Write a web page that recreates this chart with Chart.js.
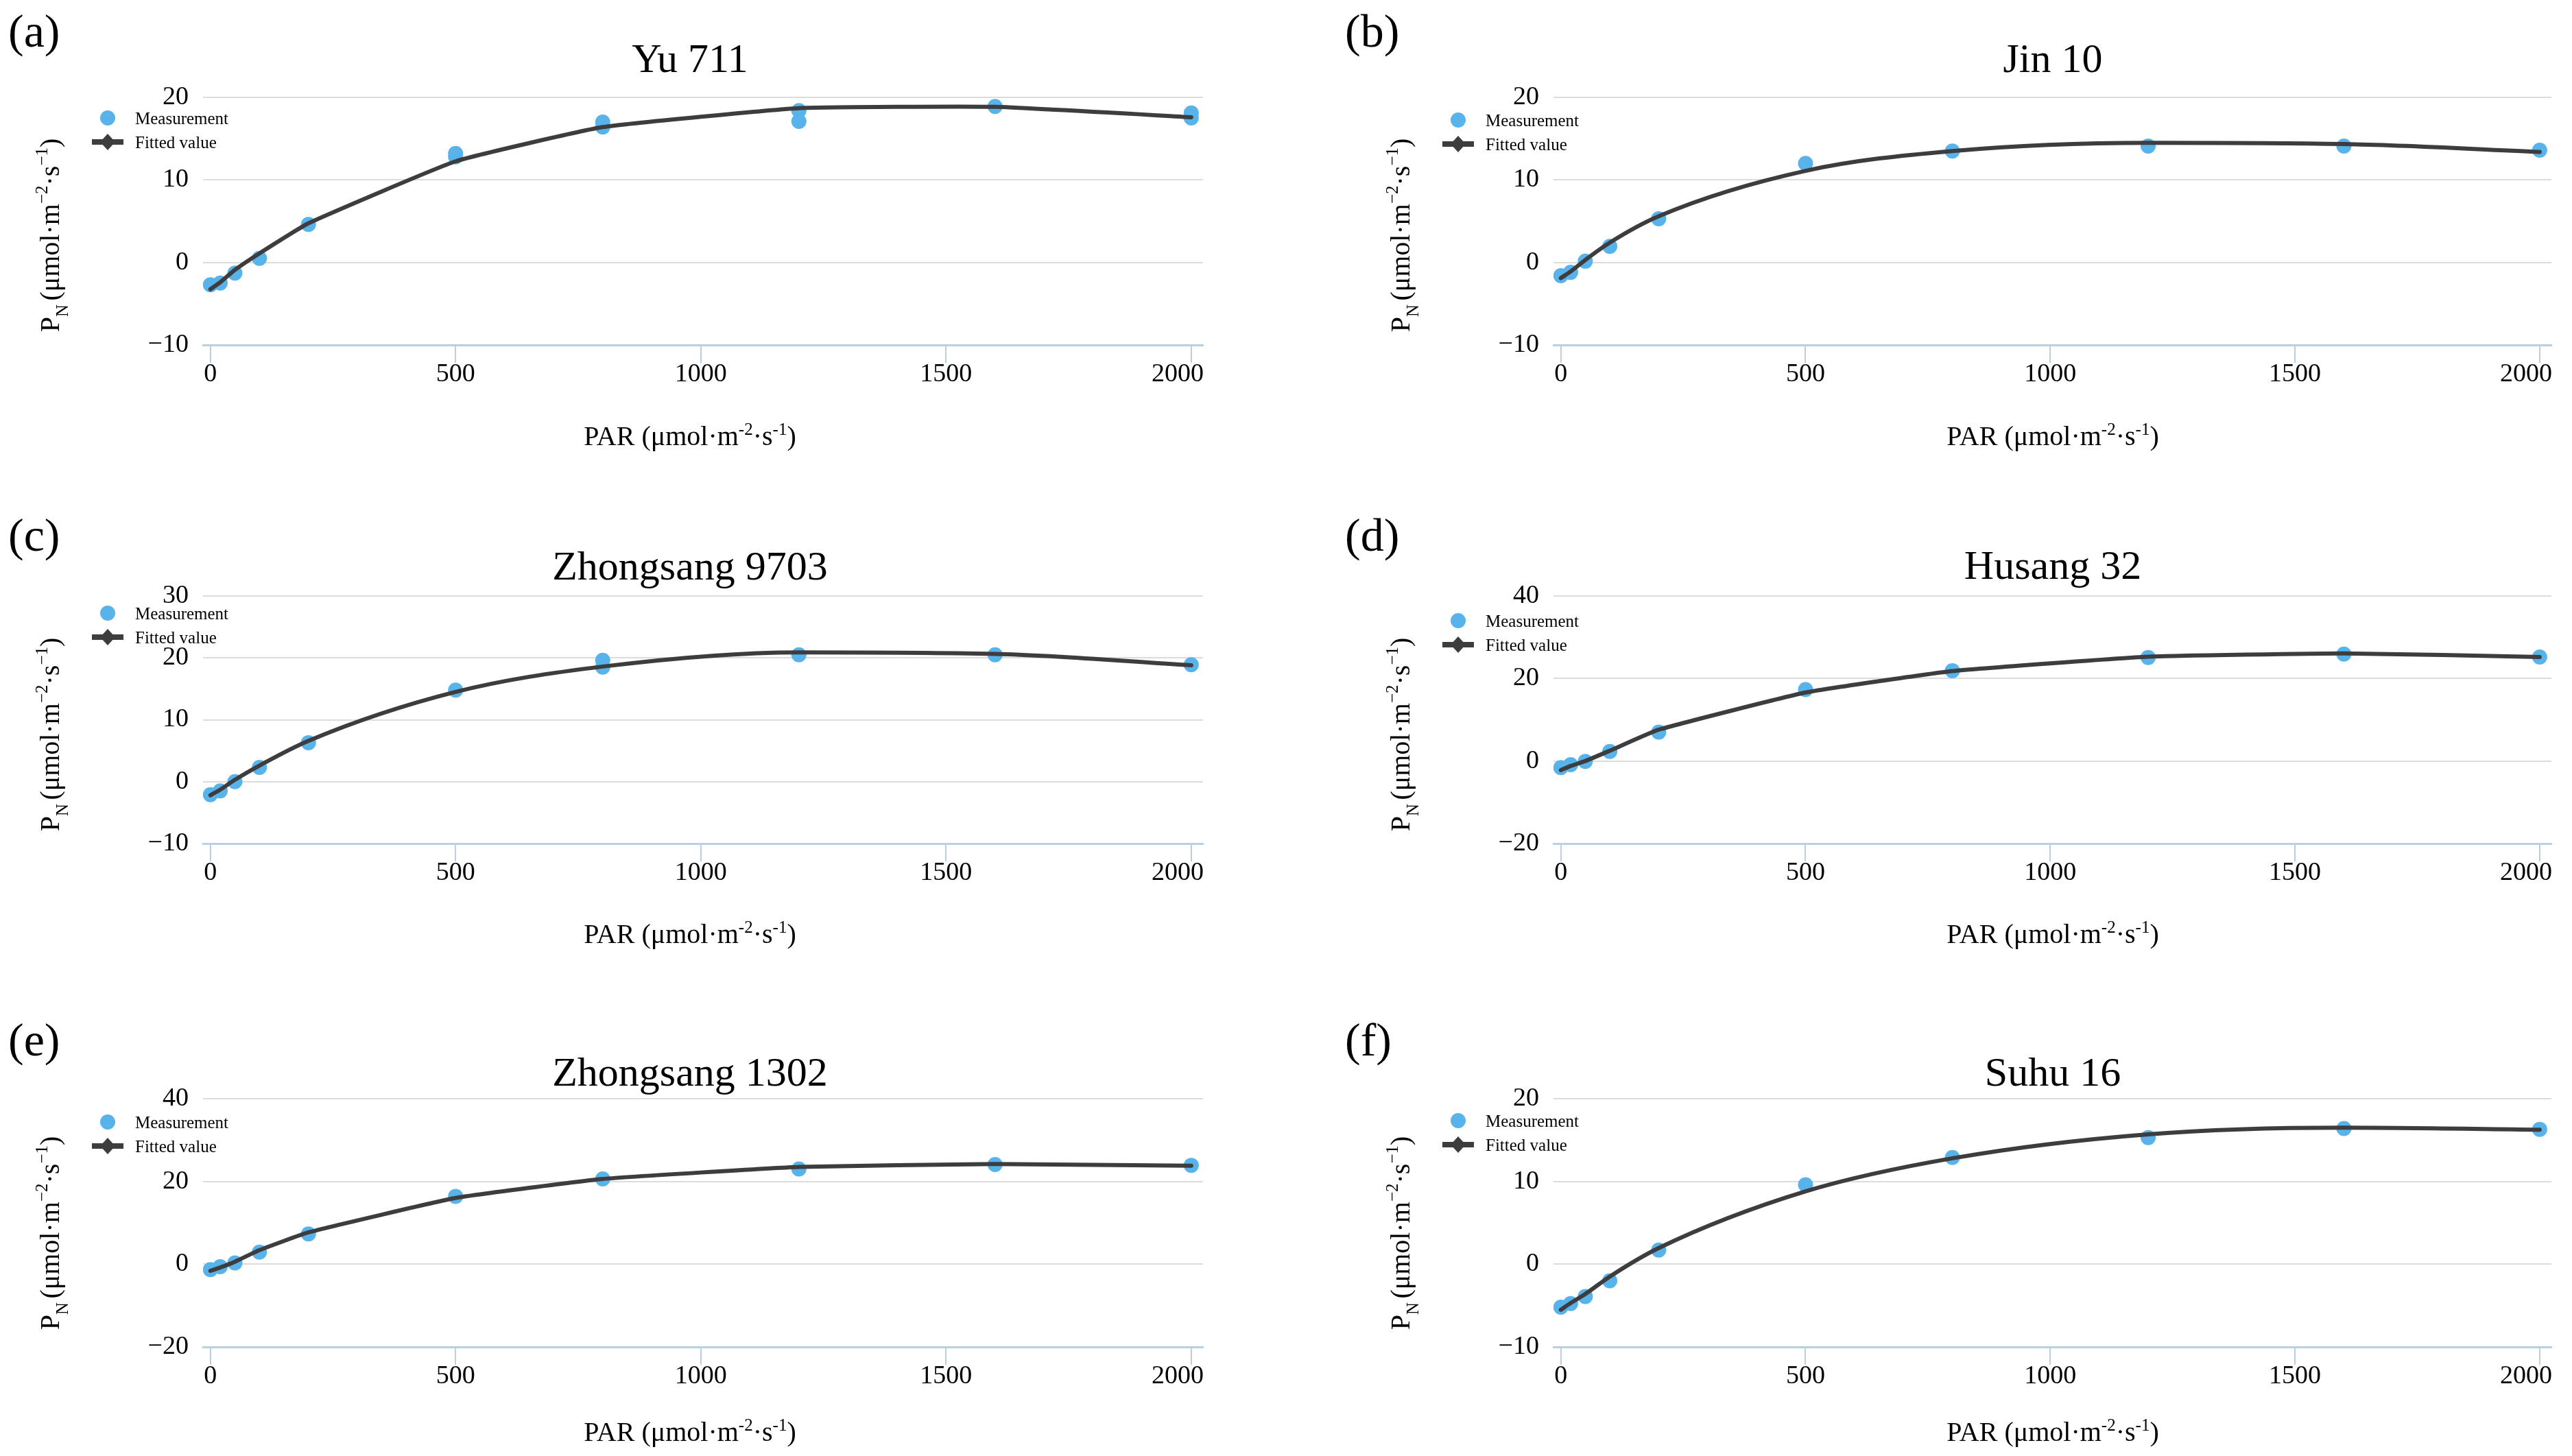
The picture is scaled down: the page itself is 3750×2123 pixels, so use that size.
<!DOCTYPE html>
<html>
<head>
<meta charset="utf-8">
<script src="https://cdn.jsdelivr.net/npm/chart.js@4.4.1/dist/chart.umd.min.js"></script>
<style>
html,body{margin:0;padding:0;background:#ffffff;}
body{width:3750px;height:2123px;position:relative;overflow:hidden;}
canvas{position:absolute;display:block;}
</style>
</head>
<body>
<canvas id="p0"></canvas>
<canvas id="p1"></canvas>
<canvas id="p2"></canvas>
<canvas id="p3"></canvas>
<canvas id="p4"></canvas>
<canvas id="p5"></canvas>
<script>
// ---------------- DATA ----------------
const PAR = [0, 20, 50, 100, 200, 500, 800, 1200, 1600, 2000];
const xTickValues = [0, 500, 1000, 1500, 2000];
const panelLetters = ['(a)', '(b)', '(c)', '(d)', '(e)', '(f)'];
const panelTitles = ['Yu 711', 'Jin 10', 'Zhongsang 9703', 'Husang 32', 'Zhongsang 1302', 'Suhu 16'];
const yMins = [-10, -10, -10, -20, -20, -10];
const yMaxs = [20, 20, 30, 40, 40, 20];
const ySteps = [10, 10, 10, 20, 20, 10];
const seriesNames = ['Measurement', 'Fitted value'];

const measX_a = [0, 20, 50, 100, 200, 500, 500, 800, 800, 1200, 1200, 1600, 2000, 2000];
const measY_a = [-2.7, -2.5, -1.3, 0.5, 4.6, 12.8, 13.2, 16.4, 17.0, 18.4, 17.1, 18.9, 18.1, 17.5];
const fit_a   = [-3.25, -2.4, -0.9, 1.1, 4.75, 12.25, 16.4, 18.7, 18.85, 17.6];

const measX_b = [0, 20, 50, 100, 200, 500, 800, 1200, 1600, 2000];
const measY_b = [-1.6, -1.2, 0.15, 1.95, 5.3, 12.0, 13.5, 14.1, 14.1, 13.6];
const fit_b   = [-1.9, -1.1, 0.3, 2.4, 5.6, 11.1, 13.5, 14.5, 14.35, 13.4];

const measX_c = [0, 20, 50, 100, 200, 500, 800, 800, 1200, 1600, 2000];
const measY_c = [-2.1, -1.5, 0.0, 2.3, 6.3, 14.8, 19.6, 18.5, 20.5, 20.5, 18.9];
const fit_c   = [-2.2, -1.3, 0.3, 2.6, 6.6, 14.5, 18.6, 20.9, 20.65, 18.8];

const measX_d = [0, 20, 50, 100, 200, 500, 800, 1200, 1600, 2000];
const measY_d = [-1.6, -0.9, -0.1, 2.3, 7.0, 17.3, 21.9, 25.1, 25.9, 25.2];
const fit_d   = [-2.2, -1.2, 0.0, 2.5, 7.6, 16.6, 21.8, 25.3, 26.1, 25.2];

const measX_e = [0, 20, 50, 100, 200, 500, 800, 1200, 1600, 2000];
const measY_e = [-1.3, -0.6, 0.3, 2.9, 7.3, 16.4, 20.6, 23.0, 24.1, 23.9];
const fit_e   = [-1.6, -0.8, 0.6, 3.4, 7.7, 16.0, 20.6, 23.5, 24.2, 23.8];

const measX_f = [0, 20, 50, 100, 200, 500, 800, 1200, 1600, 2000];
const measY_f = [-5.2, -4.75, -3.9, -2.0, 1.7, 9.6, 12.9, 15.3, 16.4, 16.3];
const fit_f   = [-5.5, -4.7, -3.6, -1.5, 1.95, 8.8, 12.8, 15.7, 16.5, 16.25];

const measXs = [measX_a, measX_b, measX_c, measX_d, measX_e, measX_f];
const measYs = [measY_a, measY_b, measY_c, measY_d, measY_e, measY_f];
const fits   = [fit_a, fit_b, fit_c, fit_d, fit_e, fit_f];

// ---------------- STYLE / LAYOUT ----------------
const SERIF = "'Liberation Serif', 'Times New Roman', serif";
Chart.defaults.font.family = SERIF;
const C_MEAS = '#58b3ea';
const C_FIT = '#3d3d40';
const C_GRID = '#dcdcdc';
const C_AXIS = '#b9cfe4';
// curve smoothing style per panel (null = monotone cubic)
const curveTension = [0.12, null, null, 0.12, 0.12, null];

const colLeft = [0, 1950], colWidth = [1900, 1800];
const colChartLeft = [296, 315], colChartRight = [1754, 1770];
const colTitleCX = [1006, 1043], colXTitleCX = [1006, 1043], colLetterX = [12, 11];
const rowTop = [0, 727, 1460], rowHeight = [727, 733, 663];
const rowChartBottom = [503, 503, 504];
const CHART_TOP = 142, YW = 150, XH = 100;
const titleBase = [105, 105, 118, 117, 123, 123];
const letterBase = [68, 68, 76, 76, 79, 79];
const xTitleBase = [649, 649, 648, 648, 641, 641];
const legendY = [172, 175, 167, 178, 176, 174];
const yTitleCY = [343, 343, 344, 344, 338, 338];

function segWidth(ctx, segs) {
  let w = 0;
  for (const s of segs) { ctx.font = s.size + 'px ' + SERIF; w += ctx.measureText(s.t).width; }
  return w;
}
function drawSegs(ctx, segs, x, y) {
  let cx = x;
  for (const s of segs) {
    ctx.font = s.size + 'px ' + SERIF;
    ctx.fillText(s.t, cx, y + (s.dy || 0));
    cx += ctx.measureText(s.t).width;
  }
}
const yTitleSegs = [
  {t: 'P', size: 40}, {t: 'N', size: 25, dy: 13}, {t: ' ', size: 22},
  {t: '(μmol·m', size: 40}, {t: '−2', size: 25, dy: -17}, {t: '·s', size: 40},
  {t: '−1', size: 25, dy: -17}, {t: ')', size: 40}
];
const xTitleSegs = [
  {t: 'PAR (μmol·m', size: 40}, {t: '-2', size: 25, dy: -15}, {t: '·s', size: 40},
  {t: '-1', size: 25, dy: -15}, {t: ')', size: 40}
];

function makeDecor(i, col) {
  return {
    id: 'decor' + i,
    beforeDraw(chart) {
      // keep the last x tick label inside the plot edge (right-aligned to the axis end)
      const sx = chart.scales.x;
      const items = sx.getLabelItems(chart.chartArea);
      const last = items[items.length - 1];
      if (last && !last._shifted) {
        last.options.textAlign = 'right';
        last.options.translation[0] = chart.chartArea.right + 1;
        last._shifted = true;
      }
    },
    afterDraw(chart) {
      const ctx = chart.ctx;
      const ca = chart.chartArea;
      ctx.save();
      ctx.fillStyle = '#000';
      ctx.textBaseline = 'alphabetic';
      // panel letter
      ctx.textAlign = 'left';
      ctx.font = '68px ' + SERIF;
      ctx.fillText(panelLetters[i], colLetterX[col], letterBase[i]);
      // title
      ctx.textAlign = 'center';
      ctx.font = '60px ' + SERIF;
      ctx.fillText(panelTitles[i], colTitleCX[col], titleBase[i]);
      // x-axis title
      ctx.textAlign = 'left';
      const xw = segWidth(ctx, xTitleSegs);
      drawSegs(ctx, xTitleSegs, colXTitleCX[col] - xw / 2, xTitleBase[i]);
      // y-axis title
      const yw = segWidth(ctx, yTitleSegs);
      ctx.save();
      ctx.translate(ca.left - 210, yTitleCY[i]);
      ctx.rotate(-Math.PI / 2);
      drawSegs(ctx, yTitleSegs, -yw / 2, 0);
      ctx.restore();
      // legend
      const lx = ca.left - 139;
      const ly1 = legendY[i], ly2 = legendY[i] + 35;
      ctx.fillStyle = C_MEAS;
      ctx.beginPath(); ctx.arc(lx, ly1, 11, 0, Math.PI * 2); ctx.fill();
      ctx.strokeStyle = C_FIT; ctx.lineWidth = 8;
      ctx.beginPath(); ctx.moveTo(lx - 23, ly2); ctx.lineTo(lx + 23, ly2); ctx.stroke();
      ctx.fillStyle = C_FIT;
      ctx.beginPath(); ctx.moveTo(lx, ly2 - 12); ctx.lineTo(lx + 11, ly2); ctx.lineTo(lx, ly2 + 12); ctx.lineTo(lx - 11, ly2); ctx.closePath(); ctx.fill();
      ctx.fillStyle = '#000';
      ctx.textBaseline = 'middle';
      ctx.textAlign = 'left';
      ctx.font = '25px ' + SERIF;
      ctx.fillText(seriesNames[0], lx + 40, ly1 + 2);
      ctx.fillText(seriesNames[1], lx + 40, ly2 + 2);
      ctx.restore();
    }
  };
}

for (let i = 0; i < 6; i++) {
  const col = i % 2, row = Math.floor(i / 2);
  const cv = document.getElementById('p' + i);
  const W = colWidth[col], H = rowHeight[row];
  cv.width = W; cv.height = H;
  cv.style.left = colLeft[col] + 'px';
  cv.style.top = rowTop[row] + 'px';
  cv.style.width = W + 'px'; cv.style.height = H + 'px';

  const measPts = measXs[i].map((x, k) => ({x: x, y: measYs[i][k]}));
  const fitPts = PAR.map((x, k) => ({x: x, y: fits[i][k]}));
  const yMin = yMins[i];
  const curve = curveTension[i] === null
    ? {cubicInterpolationMode: 'monotone'}
    : {cubicInterpolationMode: 'default', tension: curveTension[i]};

  new Chart(cv, {
    type: 'scatter',
    data: {
      datasets: [
        {
          label: seriesNames[0], type: 'scatter', data: measPts, order: 2,
          pointRadius: 11, pointHoverRadius: 11, backgroundColor: C_MEAS, borderWidth: 0, pointBorderWidth: 0
        },
        Object.assign({
          label: seriesNames[1], type: 'line', data: fitPts, order: 1,
          borderColor: C_FIT, borderWidth: 6, pointRadius: 0, fill: false,
          borderCapStyle: 'round', borderJoinStyle: 'round', showLine: true
        }, curve)
      ]
    },
    options: {
      responsive: false, animation: false, devicePixelRatio: 1,
      layout: {padding: {
        left: colChartLeft[col] - YW, right: W - colChartRight[col],
        top: CHART_TOP, bottom: H - rowChartBottom[row] - XH
      }},
      plugins: {legend: {display: false}, tooltip: {enabled: false}, title: {display: false}},
      scales: {
        x: {
          type: 'linear', position: 'bottom', min: -15, max: 2024,
          afterBuildTicks: s => { s.ticks = xTickValues.map(v => ({value: v})); },
          afterFit: s => { s.height = XH; },
          grid: {display: true, drawOnChartArea: false, drawTicks: true, tickLength: 26, color: C_AXIS, lineWidth: 2},
          border: {display: true, color: C_AXIS, width: 3},
          ticks: {font: {family: SERIF, size: 38, lineHeight: 1}, color: '#000', padding: -2, maxRotation: 0, autoSkip: false,
                  callback: v => String(v)}
        },
        y: {
          type: 'linear', position: 'left', min: yMin, max: yMaxs[i],
          afterFit: s => { s.width = YW; },
          grid: {color: ctx => (ctx.tick && ctx.tick.value === yMin) ? 'rgba(0,0,0,0)' : C_GRID, lineWidth: 2, drawTicks: false},
          border: {display: false},
          ticks: {
            stepSize: ySteps[i], font: {family: SERIF, size: 38}, color: '#000', padding: 21,
            callback: v => v < 0 ? '−' + Math.abs(v) : String(v)
          }
        }
      }
    },
    plugins: [makeDecor(i, col)]
  });
}
</script>
</body>
</html>
